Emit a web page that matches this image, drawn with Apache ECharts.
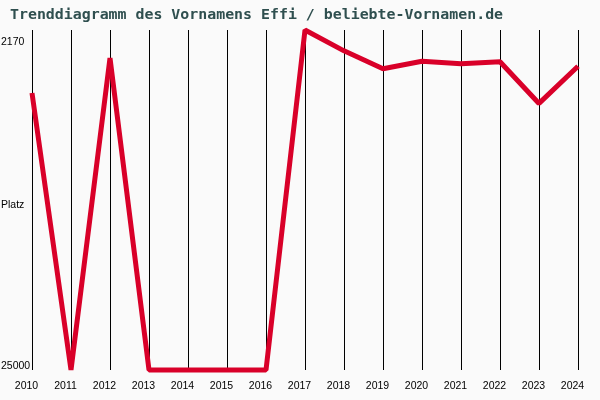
<!DOCTYPE html>
<html>
<head>
<meta charset="utf-8">
<script src="https://cdn.jsdelivr.net/npm/echarts@6/dist/echarts.min.js"></script>
<style>
html,body{margin:0;padding:0;background:#fafafa;}
#chart{width:600px;height:400px;}
</style>
</head>
<body>
<div id="chart"></div>
<script>
const years = ['2010','2011','2012','2013','2014','2015','2016','2017','2018','2019','2020','2021','2022','2023','2024'];
const ranks = [6400, 25000, 4050, 25000, 25000, 25000, 25000, 2170, 3570, 4770, 4265, 4440, 4300, 7100, 4600];
const yMin = 2170;
const yMax = 25000;
const titleText = 'Trenddiagramm des Vornamens Effi / beliebte-Vornamen.de';
const yName = 'Platz';

const labelFont = 'Liberation Sans';
const labelSize = 10.5;

const chart = echarts.init(document.getElementById('chart'));
chart.setOption({
  backgroundColor: '#fafafa',
  animation: false,
  title: {
    text: titleText,
    left: 10,
    top: 8,
    padding: 0,
    textStyle: {
      fontFamily: 'DejaVu Sans Mono',
      fontWeight: 'bold',
      fontSize: 14.9,
      color: '#2f4f4f'
    }
  },
  grid: { left: 32, right: 22, top: 30, bottom: 30, containLabel: false, outerBoundsMode: 'none' },
  xAxis: {
    type: 'category',
    data: years,
    boundaryGap: false,
    axisLine: { show: false },
    axisTick: { show: false },
    splitLine: { show: true, lineStyle: { color: '#000', width: 1 } },
    axisLabel: {
      interval: 0,
      margin: 11,
      padding: [0, 11, 0, 0],
      fontFamily: labelFont,
      fontSize: labelSize,
      color: '#000'
    }
  },
  yAxis: {
    type: 'value',
    inverse: true,
    min: yMin,
    max: yMax,
    interval: yMax - yMin,
    axisLine: { show: false },
    axisTick: { show: false },
    splitLine: { show: false },
    name: yName,
    nameLocation: 'middle',
    nameRotate: 0,
    nameGap: 31,
    nameMoveOverlap: false,
    nameTextStyle: {
      align: 'left',
      verticalAlign: 'top',
      fontFamily: labelFont,
      fontSize: labelSize,
      color: '#000'
    },
    axisLabel: {
      margin: 31,
      align: 'left',
      fontFamily: labelFont,
      fontSize: labelSize,
      color: '#000',
      formatter: function (v) {
        if (v === yMin) return '{t|' + v + '}';
        if (v === yMax) return '{b|' + v + '}';
        return '';
      },
      rich: {
        t: { fontFamily: labelFont, fontSize: labelSize, color: '#000', padding: [24, 0, 0, 0] },
        b: { fontFamily: labelFont, fontSize: labelSize, color: '#000', padding: [0, 0, 7, 0] }
      }
    }
  },
  series: [{
    type: 'line',
    data: ranks,
    clip: false,
    symbol: 'none',
    lineStyle: { color: '#d90029', width: 5, join: 'bevel' }
  }]
});
</script>
</body>
</html>
